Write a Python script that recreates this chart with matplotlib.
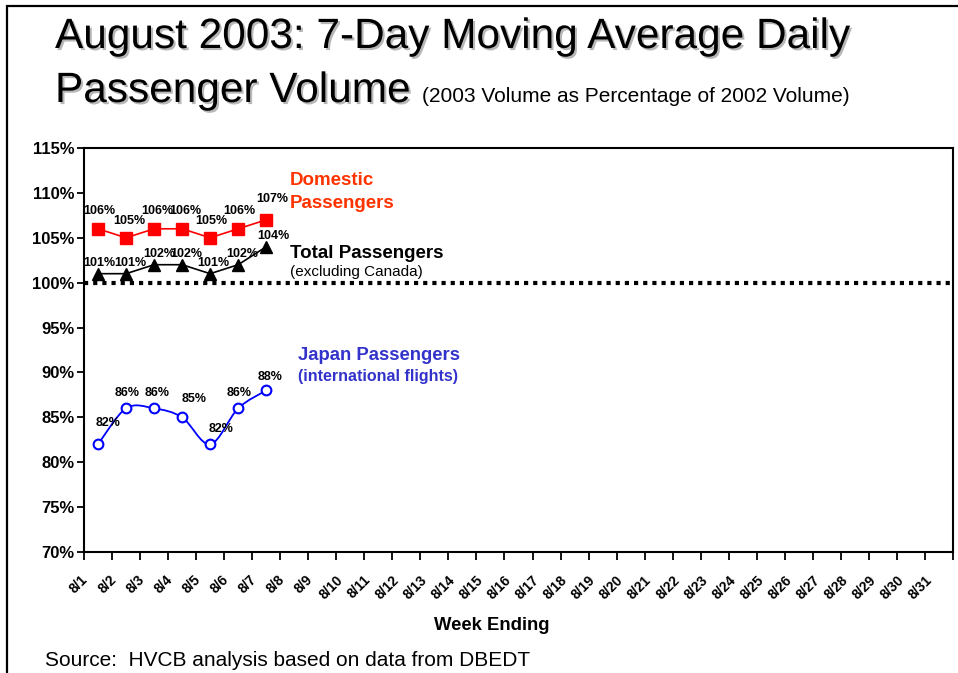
import matplotlib
matplotlib.use("Agg")
import matplotlib.pyplot as plt
import matplotlib.patheffects as pe
from matplotlib.path import Path
from matplotlib.patches import PathPatch, Rectangle
from matplotlib.transforms import ScaledTranslation
import numpy as np

plt.rcParams['font.family'] = ['Liberation Sans', 'DejaVu Sans']

# ---------------- data ----------------
days = [f"8/{d}" for d in range(1, 32)]
domestic = [106, 105, 106, 106, 105, 106, 107]
total = [101, 101, 102, 102, 101, 102, 104]
japan = [82, 86, 86, 85, 82, 86, 88]
y_ticks = [70, 75, 80, 85, 90, 95, 100, 105, 110, 115]
baseline = 100

W, H = 958, 673
fig = plt.figure(figsize=(W / 100, H / 100), dpi=100)
fig.patch.set_facecolor('white')

def px(x, y):
    return x / W, 1 - y / H

# outer slide border (left and top edges visible)
bx, by = px(7, 6)
fig.add_artist(Rectangle((bx, -0.1), 1.2, by + 0.1, transform=fig.transFigure,
                         fill=False, edgecolor='black', linewidth=1.6))

l, b = px(84, 552)
r, t = px(953, 148)
ax = fig.add_axes([l, b, r - l, t - b])

n = len(days)
x_all = np.arange(n)
xs = np.arange(len(domestic))

ax.set_xlim(-0.5, n - 0.5)
ax.set_ylim(70, 115)

# baseline dotted line
ax.axhline(baseline, color='black', linewidth=3, linestyle=(0, (1, 1.2)), zorder=2)

# Domestic
ax.plot(xs, domestic, color='#FF0000', linewidth=1.2, marker='s', markersize=9,
        markerfacecolor='#FF0000', markeredgecolor='#FF0000', zorder=4)
# Total
ax.plot(xs, total, color='black', linewidth=1.2, marker='^', markersize=8,
        markerfacecolor='black', markeredgecolor='black', zorder=4)

# Japan: smoothed curve (Catmull-Rom -> Bezier) in data coordinates
jx = xs.astype(float)
jy = np.array(japan, dtype=float)
verts = [(jx[0], jy[0])]
codes = [Path.MOVETO]
for i in range(len(jx) - 1):
    p0 = (jx[max(i - 1, 0)], jy[max(i - 1, 0)])
    p1 = (jx[i], jy[i])
    p2 = (jx[i + 1], jy[i + 1])
    p3 = (jx[min(i + 2, len(jx) - 1)], jy[min(i + 2, len(jx) - 1)])
    k = 1 / 6
    c1 = (p1[0] + (p2[0] - p0[0]) * k, p1[1] + (p2[1] - p0[1]) * k)
    c2 = (p2[0] - (p3[0] - p1[0]) * k, p2[1] - (p3[1] - p1[1]) * k)
    verts += [c1, c2, p2]
    codes += [Path.CURVE4] * 3
ax.add_patch(PathPatch(Path(verts, codes), fill=False, edgecolor='#0000FF',
                       linewidth=1.3, zorder=3))
ax.plot(xs, japan, linestyle='none', marker='o', markersize=7,
        markerfacecolor='white', markeredgecolor='#0000FF', markeredgewidth=1.5, zorder=4)

# data labels (offsets in points)
lab_kw = dict(fontsize=9, fontweight='bold', color='black', ha='center', va='center',
              textcoords='offset points', zorder=5)
dom_off = [(1, 13), (2, 12), (2, 13), (2, 13), (1, 12), (1, 13), (4, 15)]
tot_off = [(1, 8), (3, 8), (4, 8), (3, 8), (2, 8), (3, 8), (5, 8)]
jap_off = [(7, 15), (1, 11), (2, 11), (9, 13), (8, 11), (1, 11), (3, 10)]
for i in range(len(xs)):
    ax.annotate(f"{domestic[i]}%", (xs[i], domestic[i]), xytext=dom_off[i], **lab_kw)
    ax.annotate(f"{total[i]}%", (xs[i], total[i]), xytext=tot_off[i], **lab_kw)
    ax.annotate(f"{japan[i]}%", (xs[i], japan[i]), xytext=jap_off[i], **lab_kw)

# series annotations (figure pixel positions)
def ftext(x, y, s, **kw):
    return fig.text(*px(x, y), s, **kw)

ftext(290, 181, "Domestic", fontsize=13.5, fontweight='bold', color='#FF3300', va='center')
ftext(290, 203, "Passengers", fontsize=13.5, fontweight='bold', color='#FF3300', va='center')
ftext(290, 253, "Total Passengers", fontsize=13.5, fontweight='bold', color='black', va='center')
ftext(290, 272, "(excluding Canada)", fontsize=11, color='black', va='center')
ftext(298, 355, "Japan Passengers", fontsize=13.3, fontweight='bold', color='#3333CC', va='center')
ftext(298, 377, "(international flights)", fontsize=11.5, fontweight='bold', color='#3333CC', va='center')

# axes styling
for s in ['left', 'top', 'right', 'bottom']:
    ax.spines[s].set_linewidth(1.5)
    ax.spines[s].set_color('black')

ax.set_yticks(y_ticks)
ax.set_yticklabels([f"{v}%" for v in y_ticks], fontsize=12, fontweight='bold')
ax.tick_params(axis='y', direction='out', length=5, width=1.3, pad=2)

ax.set_xticks(x_all)
ax.set_xticklabels(days, fontsize=10, fontweight='bold', rotation=45, ha='center')
ax.set_xticks(np.arange(n + 1) - 0.5, minor=True)
ax.tick_params(axis='x', which='major', length=0, pad=15)
ax.tick_params(axis='x', which='minor', direction='out', length=6, width=1.3)
off = ScaledTranslation(-19 / 100, 0, fig.dpi_scale_trans)
for lab in ax.get_xticklabels():
    lab.set_transform(lab.get_transform() + off)

ftext(492, 625, "Week Ending", fontsize=13.3, fontweight='bold', ha='center', va='center')
ftext(45, 660, "Source:  HVCB analysis based on data from DBEDT", fontsize=15,
      ha='left', va='center')

# title with shadow
shadow = [pe.withSimplePatchShadow(offset=(1.5, -1.5), shadow_rgbFace='#999999', alpha=0.7)]
ftext(55, 48, "August 2003: 7-Day Moving Average Daily", fontsize=30.5, ha='left',
      va='baseline', path_effects=shadow)
ftext(55, 102, "Passenger Volume", fontsize=30.5, ha='left', va='baseline',
      path_effects=shadow)
ftext(422, 102, "(2003 Volume as Percentage of 2002 Volume)", fontsize=15, ha='left',
      va='baseline')

fig.savefig("out.png", dpi=100, facecolor='white')
